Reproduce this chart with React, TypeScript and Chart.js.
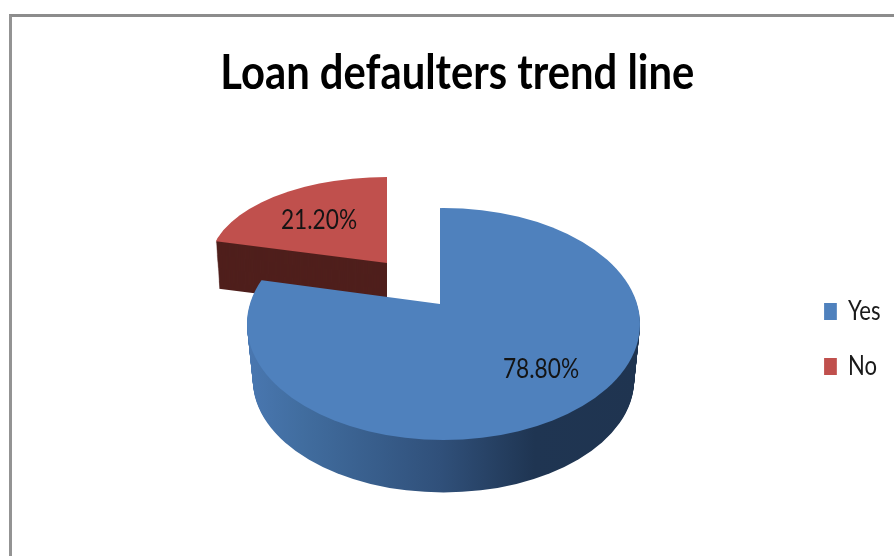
import React, { useEffect, useRef } from "react";
import { Chart, registerables } from "chart.js";

Chart.register(...registerables);

const chartTitle = "Loan defaulters trend line";
const categories = ["Yes", "No"];
const shares = [78.8, 21.2];
const sliceColors = ["#4f81bd", "#c0504d"];

const BASE_RADIUS = 197;
const WEDGE_REACH = 900;

// Perspective set-up for each slice. The wedge is cut from the apex using the
// slice's own angles, squashed by ky, and its rim is the ellipse (ex, ey, rx, ry).
const sliceViews = [
  { ax: 440, ay: 304, ky: 0.55, ex: 443.5, ey: 324, rx: 196.5, ry: 116, depth: 56, shrink: 0.03, labelDx: 101, labelDy: 65 },
  { ax: 387, ay: 263, ky: 0.52, ex: 387, ey: 263, rx: 177, ry: 86, depth: 47, shrink: 0.02, labelDx: -68, labelDy: -43 },
];

// Text in this chart is set narrow and tall.
const TITLE_SQUEEZE = 0.87;
const LEGEND_SQUEEZE = 0.85;
const LABEL_SQUEEZE = 0.84;

function wallFill(ctx: CanvasRenderingContext2D, index: number, arc: any) {
  if (index === 1) return "#4f1f1c";
  const g = ctx.createLinearGradient(arc.x - BASE_RADIUS, 0, arc.x + BASE_RADIUS, 0);
  g.addColorStop(0, "#4a78b2");
  g.addColorStop(0.15, "#416d9f");
  g.addColorStop(0.5, "#30507a");
  g.addColorStop(0.74, "#1f3552");
  g.addColorStop(1, "#1f3450");
  return g;
}

// Paints one arc element as a wedge limited by an elliptical rim.
function paintSlice(ctx: CanvasRenderingContext2D, arc: any, fill: any, v: any, drop: number, scale: number) {
  const proxy = Object.create(arc, {
    outerRadius: { value: WEDGE_REACH, writable: true },
    options: { value: Object.create(arc.options, { backgroundColor: { value: fill } }), writable: true },
  });
  ctx.save();
  ctx.beginPath();
  ctx.ellipse(v.ex, v.ey + drop, v.rx * scale, v.ry * scale, 0, 0, Math.PI * 2);
  ctx.clip();
  ctx.translate(v.ax, v.ay + drop);
  ctx.scale(1, v.ky);
  ctx.translate(-arc.x, -arc.y);
  proxy.draw(ctx);
  ctx.restore();
}

// Wraps a layout box's draw so that it is squeezed horizontally and moved.
function squeezeBox(chart: any, box: any, pivotX: number, factor: number, dx: number, dy: number) {
  const original = box.draw;
  box.draw = function (area: any) {
    const ctx = chart.ctx;
    ctx.save();
    ctx.translate(pivotX + dx, dy);
    ctx.scale(factor, 1);
    ctx.translate(-pivotX, 0);
    original.call(this, area);
    ctx.restore();
  };
}

const pie3dPlugin = {
  id: "pie3d",
  beforeDraw(chart: any) {
    if (chart.$squeezed) return;
    chart.$squeezed = true;
    squeezeBox(chart, chart.titleBlock, 447, TITLE_SQUEEZE, 12.5, 0);
    squeezeBox(chart, chart.legend, chart.legend.right, LEGEND_SQUEEZE, 0, 61);
  },
  beforeDatasetDraw(chart: any) {
    const ctx: CanvasRenderingContext2D = chart.ctx;
    const arcs = chart.getDatasetMeta(0).data;
    // The detached slice goes first so the large slice overlaps its wall.
    [1, 0].forEach((i) => {
      const arc = arcs[i];
      const v = sliceViews[i];
      const wall = wallFill(ctx, i, arc);
      for (let d = v.depth; d >= 1; d--) {
        paintSlice(ctx, arc, wall, v, d, 1 - (v.shrink * d) / v.depth);
      }
      paintSlice(ctx, arc, sliceColors[i], v, 0, 1);
    });
    return false;
  },
  afterDatasetsDraw(chart: any) {
    const ctx: CanvasRenderingContext2D = chart.ctx;
    shares.forEach((value, i) => {
      const v = sliceViews[i];
      ctx.save();
      ctx.font = "27px Lato";
      ctx.fillStyle = "#141414";
      ctx.textAlign = "center";
      ctx.textBaseline = "middle";
      ctx.translate(v.ax + v.labelDx, v.ay + v.labelDy);
      ctx.scale(LABEL_SQUEEZE, 1);
      ctx.fillText(`${value.toFixed(2)}%`, 0, 0);
      ctx.restore();
    });
  },
};

export default function App() {
  const ref = useRef<HTMLCanvasElement | null>(null);

  useEffect(() => {
    if (!ref.current) return;
    const chart = new Chart(ref.current, {
      type: "pie",
      data: {
        labels: categories,
        datasets: [
          {
            data: shares,
            backgroundColor: sliceColors,
            borderWidth: 0,
            radius: BASE_RADIUS,
          } as any,
        ],
      },
      options: {
        animation: false,
        responsive: false,
        layout: { padding: { right: 5 } },
        plugins: {
          title: {
            display: true,
            text: chartTitle,
            color: "#000000",
            font: { family: "Lato", size: 48, weight: "bold" },
            padding: { top: 45, bottom: 17 },
          },
          legend: {
            position: "right",
            labels: {
              boxWidth: 15,
              boxHeight: 17,
              color: "#1a1a1a",
              padding: 29,
              font: { family: "Lato", size: 26 },
            },
          },
          tooltip: { enabled: false },
        },
      },
      plugins: [pie3dPlugin],
    } as any);
    return () => chart.destroy();
  }, []);

  return (
    <div style={{ position: "absolute", left: 0, top: 0, width: 894, height: 556, overflow: "hidden", background: "#fff" }}>
      <div style={{ position: "absolute", left: 9, top: 14, right: 0, bottom: 0, borderLeft: "3px solid #939393", borderTop: "3px solid #8c8c8c" }} />
      <canvas ref={ref} width={894} height={556} style={{ position: "absolute", left: 0, top: 0, display: "block" }} />
    </div>
  );
}
